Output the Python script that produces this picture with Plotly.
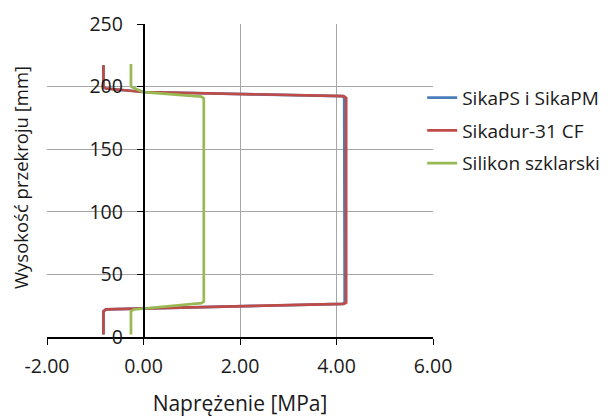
import plotly.graph_objects as go

# Series data (x: stress [MPa], y: section height [mm])
blue_x = [-0.83, -0.83, -0.78, 4.12, 4.17, 4.16, 4.12, 0.0, -0.78, -0.83, -0.83]
blue_y = [2, 20.5, 22.0, 26.4, 27.4, 191.0, 192.4, 195.7, 198.5, 199.5, 217]
red_x = [-0.83, -0.83, -0.78, 4.15, 4.20, 4.20, 4.15, 0.0, -0.78, -0.83, -0.83]
red_y = [2, 20.5, 22.0, 26.5, 27.5, 191.0, 192.4, 195.7, 198.5, 199.5, 217]
green_x = [-0.26, -0.26, -0.20, 1.20, 1.25, 1.25, 1.20, 0.0, -0.20, -0.26, -0.26]
green_y = [2, 20.5, 22.0, 27.0, 28.3, 190.5, 192.0, 195.6, 198.8, 200.2, 218]

names = ["SikaPS i SikaPM", "Sikadur-31 CF", "Silikon szklarski"]
colors = ["#4a7ebb", "#be4b48", "#98b954"]

x_ticks = [-2, 0, 2, 4, 6]
x_tick_labels = ["-2.00", "0.00", "2.00", "4.00", "6.00"]
y_ticks = [0, 50, 100, 150, 200, 250]

FONT = "Open Sans"
TXT = "#1a1a1a"

fig = go.Figure()
for i, (xs, ys, nm, c) in enumerate([(blue_x, blue_y, names[0], colors[0]),
                                     (red_x, red_y, names[1], colors[1]),
                                     (green_x, green_y, names[2], colors[2])]):
    fig.add_trace(go.Scatter(x=xs, y=ys, mode="lines", name=nm, legendgroup=f"g{i}",
                             line=dict(color=c, width=2.7)))

fig.update_layout(
    width=607, height=409,
    margin=dict(l=39, r=182, t=16, b=80, autoexpand=False),
    paper_bgcolor="white", plot_bgcolor="white",
    font=dict(family=FONT, size=19, color=TXT),
    showlegend=True,
    legend=dict(x=0.972, y=0.825, xanchor="left", yanchor="top",
                bgcolor="rgba(0,0,0,0)", font=dict(size=19),
                tracegroupgap=5, itemwidth=30),
    xaxis=dict(range=[-2, 6], tickvals=x_ticks, ticktext=x_tick_labels,
               showgrid=True, gridcolor="#a6a6a6", gridwidth=1,
               zeroline=False, showline=True, linecolor="black", linewidth=1.5,
               ticks="outside", ticklen=6, tickcolor="black",
               tickfont=dict(size=19.5), ticklabelstandoff=5, automargin=False,
               title=dict(text="Naprężenie [MPa]", standoff=24, font=dict(size=21))),
    yaxis=dict(range=[0, 250], tickvals=y_ticks,
               showgrid=True, gridcolor="#a6a6a6", gridwidth=1,
               zeroline=False, showline=True, linecolor="black", linewidth=1.5,
               ticks="outside", ticklen=6, tickcolor="black",
               tickfont=dict(size=19.5), ticklabelstandoff=10, automargin=False,
               anchor="free", position=0.25),
    annotations=[dict(text="Wysokość przekroju [mm]", xref="paper", yref="paper",
                      x=-0.070, y=0.511, textangle=-90, showarrow=False,
                      xanchor="center", yanchor="middle", font=dict(size=18.5))],
)

fig.write_html("out.html")
